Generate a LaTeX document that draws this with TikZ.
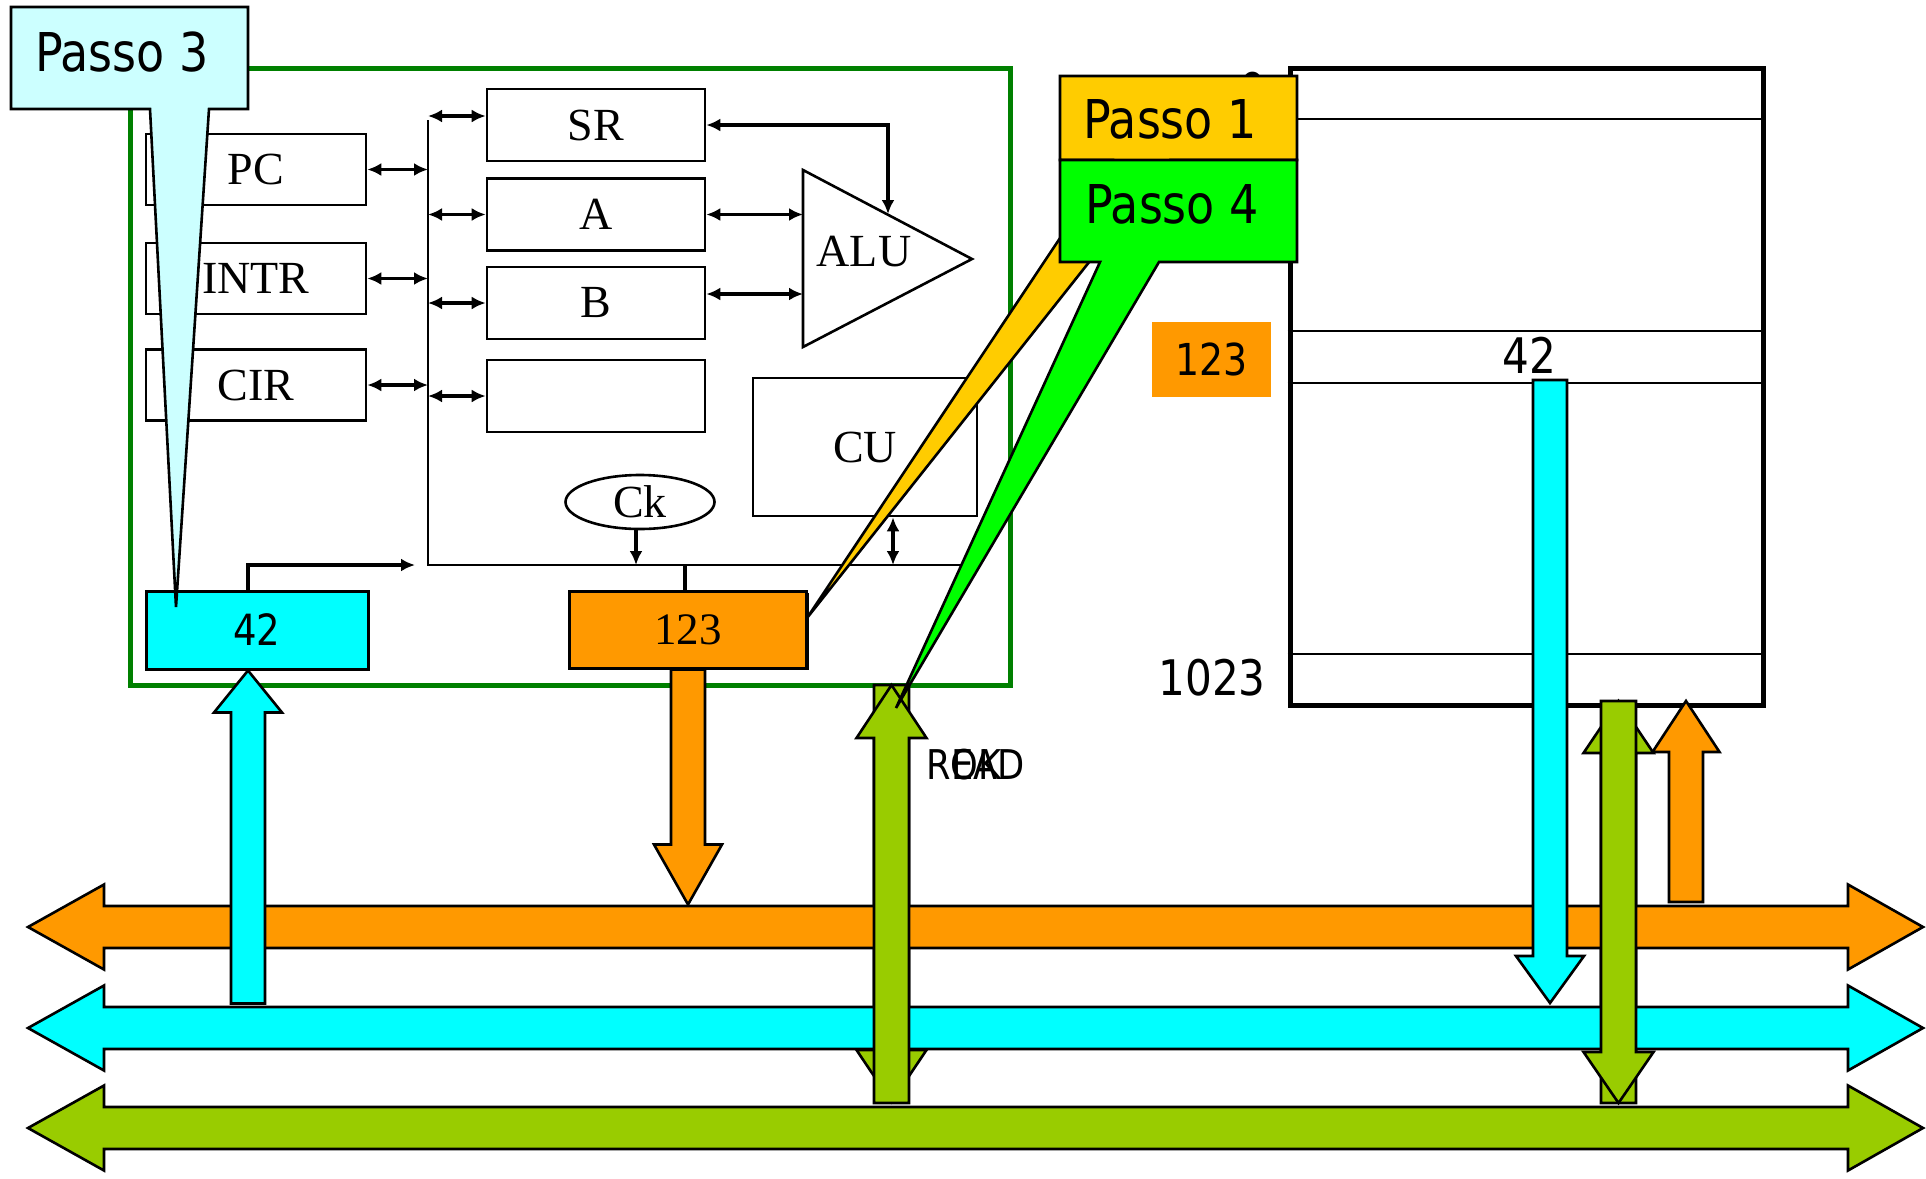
\documentclass[tikz,border=0pt]{standalone}
\usepackage{fontspec}
\setmainfont{Liberation Serif}
\newfontfamily\labelsans{DejaVu Sans}[FakeStretch=0.86]
\usepackage{xcolor}
\usepackage{tikz}
\usetikzlibrary{arrows.meta, positioning, calc, shapes.geometric, shadows}

\definecolor{cpugreen}{HTML}{008000}
\definecolor{busorange}{HTML}{FF9900}
\definecolor{buscyan}{HTML}{00FFFF}
\definecolor{busgreen}{HTML}{99CC00}
\definecolor{passoone}{HTML}{FFCC00}
\definecolor{passofour}{HTML}{00FF00}
\definecolor{passothree}{HTML}{CCFFFF}

\begin{document}
\begin{tikzpicture}[
    x=1pt, y=-1pt,
    % Styles
    cpubox/.style={rectangle, draw=cpugreen, line width=5pt, inner sep=0pt},
    reg/.style={rectangle, draw, line width=2.6pt, fill=white, minimum width=220pt, minimum height=71pt, inner sep=0pt, font=\fontsize{46}{50}\selectfont},
    value/.style={rectangle, draw, line width=3pt, inner sep=0pt, drop shadow={shadow xshift=2pt, shadow yshift=-2pt, fill=black, opacity=1}},
    memtext/.style={font=\labelsans\fontsize{49}{54}\selectfont, inner sep=0pt},
    passo/.style={font=\labelsans\fontsize{53.5}{60}\selectfont, inner sep=0pt},
    link/.style={<->, >={Latex[length=14pt, width=13pt]}, line width=3.6pt},
    feed/.style={-{Latex[length=14pt, width=13pt]}, line width=3.6pt},
    wire/.style={line width=2.2pt},
    fat/.style={draw, line width=2.6pt, line join=miter},
    callout/.style={draw, line width=2.6pt, line join=miter}
]
    \useasboundingbox (0,0) rectangle (1926,1178);

    % --- CPU ---
    \node[cpubox, minimum width=880pt, minimum height=617pt] (cpu) at (570,376.5) {};

    % Left registers
    \node[reg] (pc) at (256,169.5) {PC};
    \node[reg] (intr) at (256,278.5) {INTR};
    \node[reg] (cir) at (256,385) {CIR};

    % Right registers
    \node[reg, minimum width=218pt, minimum height=72pt] (sr) at (596,125) {SR};
    \node[reg, minimum width=218pt, minimum height=72pt] (a) at (596,214.5) {A};
    \node[reg, minimum width=218pt, minimum height=72pt] (b) at (596,303) {B};
    \node[reg, minimum width=218pt, minimum height=72pt] (spare) at (596,396) {};

    % ALU
    \coordinate (alutop) at (803,170);
    \coordinate (alutip) at (972,259);
    \coordinate (alubot) at (803,347);
    \coordinate (aluin) at (888,214);
    \draw[line width=2.6pt, line join=miter] (alutop) -- (alutip) -- (alubot) -- cycle;
    \node[font=\fontsize{46}{50}\selectfont] (alu) at (864,252) {ALU};

    % CU and clock
    \node[reg, minimum width=224pt, minimum height=138pt] (cu) at (865,447) {CU};
    \node[ellipse, draw, line width=2.6pt, minimum width=149pt, minimum height=54pt, inner sep=0pt, font=\fontsize{46}{50}\selectfont] (ck) at (640,502) {Ck};

    % Internal bus
    \coordinate (bustop) at (428,120);
    \coordinate (busbot) at (428,565);
    \coordinate (busend) at (962,565);
    \draw[wire] (bustop) -- (busbot) -- (busend);

    % MAR and MDR
    \node[value, fill=buscyan, minimum width=222pt, minimum height=78pt, font=\labelsans\fontsize{43}{48}\selectfont] (mar) at (257,630) {42};
    \node[value, fill=busorange, minimum width=237pt, minimum height=77pt, font=\fontsize{45}{48}\selectfont] (mdr) at (688,629.5) {123};

    % Connections to bus
    \draw[link] (pc.east) -- (pc.east -| bustop);
    \draw[link] (intr.east) -- (intr.east -| bustop);
    \draw[link] (cir.east) -- (cir.east -| bustop);
    \draw[link] (bustop |- 0,116) -- (sr.west |- 0,116);
    \draw[link] (bustop |- a.west) -- (a.west);
    \draw[link] (bustop |- b.west) -- (b.west);
    \draw[link] (bustop |- spare.west) -- (spare.west);
    \draw[link] (a.east) -- (a.east -| alutop);
    \draw[link] (b.east |- 0,294) -- (alutop |- 0,294);
    \draw[link] (sr.east) -| (aluin);
    \draw[link] (cu.south -| 893,0) -- (busend -| 893,0);
    \draw[feed] (ck.south -| 636,0) -- (busend -| 636,0);
    \draw[feed] (mar.north -| 248,0) |- ($(busbot)+(-13,0)$);
    \draw[line width=3.6pt] (mdr.north -| 685,0) -- (busend -| 685,0);

    % --- Memory ---
    \node[draw, line width=5pt, minimum width=473pt, minimum height=637pt, inner sep=0pt] (mem) at (1526.5,386.5) {};
    \foreach \row in {119,331,383,654}
        \draw[line width=2.6pt] (mem.west |- 0,\row) -- (mem.east |- 0,\row);
    \node[memtext, anchor=east] (addrfirst) at (1266,91) {0};
    \node[memtext, anchor=east] (addrlast) at (1266,678) {1023};
    \node[memtext] (cell) at (1529,355) {42};
    \node[fill=busorange, minimum width=119pt, minimum height=75pt, inner sep=0pt, font=\labelsans\fontsize{44}{48}\selectfont] (copy) at (1211.5,359.5) {123};

    % Ports
    \coordinate (ctlport) at (891.5,685);
    \coordinate (memport) at (1618.5,701);
    \coordinate (memin) at (1686,701);
    \coordinate (cellout) at (1550,380);

    % Control arrows behind the buses
    \draw[fat, fill=busgreen] ($(ctlport)+(-17.5,0)$) -- ++(0,365) -- ++(-17.5,0) -- ++(35,52) -- ++(35,-52) -- ++(-17.5,0) -- ++(0,-365) -- cycle;
    \draw[fat, fill=busgreen] (memport) -- ++(35,52) -- ++(-17.5,0) -- ++(0,350) -- ++(-35,0) -- ++(0,-350) -- ++(-17.5,0) -- cycle;

    % --- System buses ---
    \foreach \col/\y in {busorange/927, buscyan/1028, busgreen/1128}
        \draw[fat, fill=\col] (28,\y) -- ++(76,-42.5) -- ++(0,21.5) -- ++(1744,0) -- ++(0,-21.5) -- ++(75,42.5) -- ++(-75,42.5) -- ++(0,-21.5) -- ++(-1744,0) -- ++(0,21.5) -- cycle;

    % Transfers
    \draw[fat, fill=buscyan] ($(mar.south)+(-9,0)$) -- ++(34,42) -- ++(-17,0) -- ++(0,291) -- ++(-34,0) -- ++(0,-291) -- ++(-17,0) -- cycle;
    \draw[fat, fill=busorange] ($(mdr.south)+(-17,0)$) -- ++(0,175) -- ++(-17,0) -- ++(34,60) -- ++(34,-60) -- ++(-17,0) -- ++(0,-175) -- cycle;
    \draw[fat, fill=busgreen] (ctlport) -- ++(35,53) -- ++(-17.5,0) -- ++(0,365) -- ++(-35,0) -- ++(0,-365) -- ++(-17.5,0) -- cycle;
    \draw[fat, fill=buscyan] ($(cellout)+(-17,0)$) -- ++(0,576) -- ++(-17,0) -- ++(34,47) -- ++(34,-47) -- ++(-17,0) -- ++(0,-576) -- cycle;
    \draw[fat, fill=busgreen] ($(memport)+(-17.5,0)$) -- ++(0,351) -- ++(-17.5,0) -- ++(35,51) -- ++(35,-51) -- ++(-17.5,0) -- ++(0,-351) -- cycle;
    \draw[fat, fill=busorange] (memin) -- ++(33.5,51) -- ++(-16.5,0) -- ++(0,150) -- ++(-34,0) -- ++(0,-150) -- ++(-16.5,0) -- cycle;

    % Control signals
    \node[font=\labelsans\fontsize{41}{46}\selectfont, inner sep=0pt] (rd) at (976,765) {READ};
    \node[font=\labelsans\fontsize{41}{46}\selectfont, inner sep=0pt] (ok) at (976,765) {OK};

    % --- Callouts ---
    \draw[callout, fill=passothree] (11,7) -- (248,7) -- (248,109) -- (209,109) -- (176,607) -- (150,109) -- (11,109) -- cycle;
    \node[passo] (passothree) at (122,52) {Passo 3};

    \draw[callout, fill=passoone] (1060,76) -- (1297,76) -- (1297,160) -- (1170,160) -- (807,618) -- (1112,160) -- (1060,160) -- cycle;
    \node[passo] (passoone) at (1170,119) {Passo 1};

    \draw[callout, fill=passofour] (1060,160) -- (1297,160) -- (1297,262) -- (1159,262) -- (896,708) -- (1100,262) -- (1060,262) -- cycle;
    \node[passo] (passofour) at (1172,204) {Passo 4};

\end{tikzpicture}
\end{document}
